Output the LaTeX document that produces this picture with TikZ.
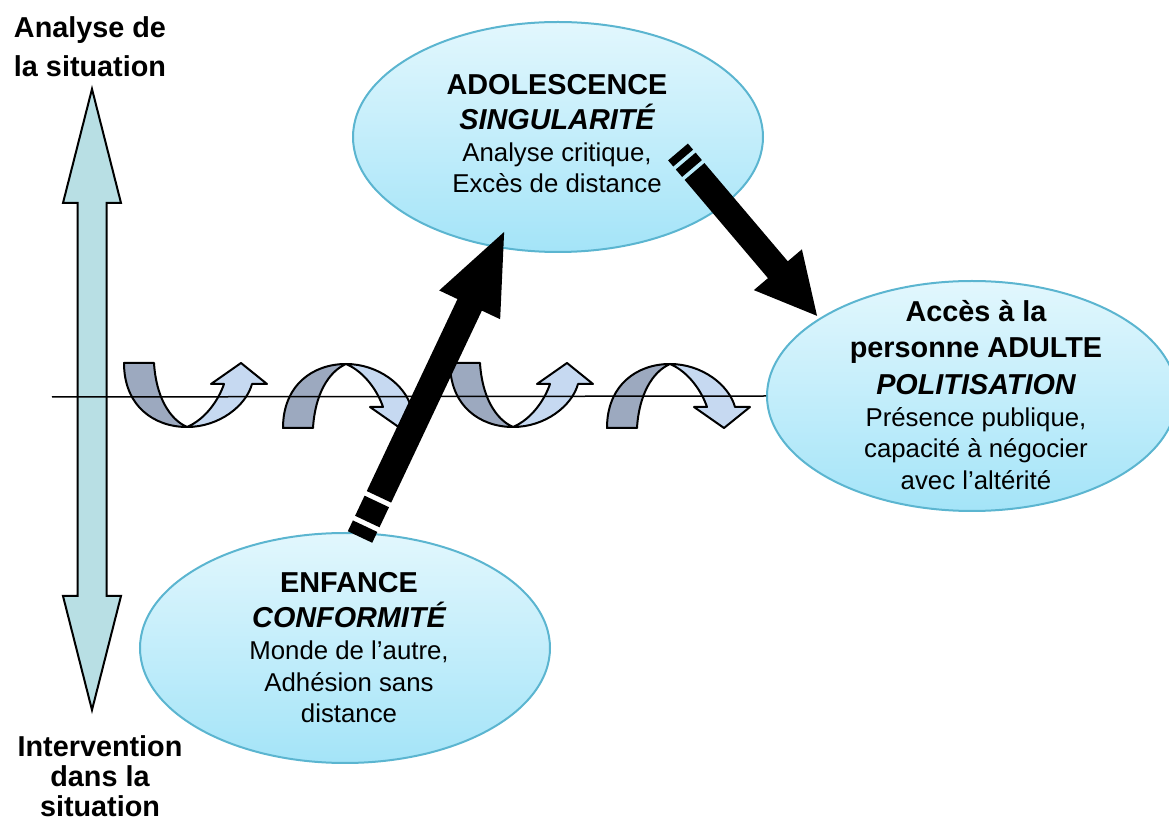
\documentclass[tikz,border=0pt]{standalone}
\usepackage{fontspec}
\setmainfont{Liberation Sans}
\usetikzlibrary{shapes.geometric,arrows.meta,calc}

\definecolor{bubbletop}{HTML}{E2F7FD}
\definecolor{bubblebot}{HTML}{A4E4F8}
\definecolor{bubbleline}{HTML}{5BB5D0}
\definecolor{axisfill}{HTML}{B8DFE4}
\definecolor{curldark}{HTML}{9CA9BF}
\definecolor{curllight}{HTML}{C6D9F1}

\tikzset{
  bubble/.style={ellipse, draw=bubbleline, line width=1pt, top color=bubbletop,
    bottom color=bubblebot, minimum width=205pt, minimum height=115pt, inner sep=0pt},
  titletext/.style={anchor=base, font=\fontsize{14.4}{17}\selectfont\bfseries},
  titleit/.style={anchor=base, font=\fontsize{14.4}{17}\selectfont\bfseries\itshape},
  bodytext/.style={anchor=base, font=\fontsize{12.9}{15}\selectfont},
  blackbar/.style={line width=13.5pt},
  bigarrow/.style={line width=13.5pt, -{Triangle[length=42.5pt,width=30pt]}},
  archarrow/.pic={
    \draw[line width=1pt, fill=curldark, line join=round]
      (0,0) .. controls (0,-43) and (30,-64) .. (63,-64)
      .. controls (45,-56) and (32,-33) .. (30,0) -- cycle;
    \draw[line width=1pt, fill=curllight, line join=round]
      (63,-64) .. controls (95,-64) and (122,-43) .. (128,-21)
      -- (143,-21) -- (117,0) -- (87,-21) -- (100,-21)
      .. controls (95,-36) and (82,-56) .. (63,-64) -- cycle;
  }
}

\begin{document}
\begin{tikzpicture}[x=0.5pt,y=-0.5pt]
\useasboundingbox (0,0) rectangle (1169,828);

% the three stages
\node[bubble] (adol) at (558,137) {};
\node[bubble] (adulte) at (972,396) {};
\node[bubble] (enfance) at (345,648) {};

% vertical axis
\draw[line width=1pt, fill=axisfill, line join=miter]
  (92,89) -- (121,203) -- (106.5,203) -- (106.5,596) -- (121,596) -- (92,710)
  -- (63,596) -- (77.5,596) -- (77.5,203) -- (63,203) -- cycle;

% curls along the line
\pic[yscale=-1] at (124,363) {archarrow};
\pic at (283,428) {archarrow};
\pic[yscale=-1] at (450,363) {archarrow};
\pic at (607,428) {archarrow};

% horizontal line
\coordinate (lineL) at (52,397);
\draw[line width=0.75pt] (lineL) -- (adulte.west);

% enfance -> adolescence
\coordinate (upT) at (360,537);
\coordinate (upH) at (506,228);
\draw[blackbar] (upT) -- ($(upT)!0.035!(upH)$);
\draw[blackbar] ($(upT)!0.05!(upH)$) -- ($(upT)!0.115!(upH)$);
\draw[bigarrow] ($(upT)!0.13!(upH)$) -- (upH);

% adolescence -> adulte
\coordinate (dnT) at (678,152);
\coordinate (dnH) at (818,317);
\draw[blackbar, line width=13pt] (dnT) -- ($(dnT)!0.037!(dnH)$);
\draw[blackbar, line width=13pt] ($(dnT)!0.055!(dnH)$) -- ($(dnT)!0.1!(dnH)$);
\draw[bigarrow, line width=13pt, -{Triangle[length=31pt,width=29pt]}]
  ($(dnT)!0.118!(dnH)$) -- (dnH);

% texts
\node[titletext] (adol1) at (557,95) {ADOLESCENCE};
\node[titleit] (adol2) at (557,130) {SINGULARITÉ};
\node[bodytext] (adol3) at (557,162) {Analyse critique,};
\node[bodytext] (adol4) at (557,193) {Excès de distance};

\node[titletext] (adulte1) at (976,322) {Accès à la};
\node[titletext] (adulte2) at (976,358) {personne ADULTE};
\node[titleit] (adulte3) at (976,395) {POLITISATION};
\node[bodytext] (adulte4) at (976,427) {Présence publique,};
\node[bodytext] (adulte5) at (976,458) {capacité à négocier};
\node[bodytext] (adulte6) at (976,490) {avec l’altérité};

\node[titletext] (enf1) at (349,593) {ENFANCE};
\node[titleit] (enf2) at (349,628) {CONFORMITÉ};
\node[bodytext] (enf3) at (349,660) {Monde de l’autre,};
\node[bodytext] (enf4) at (349,692) {Adhésion sans};
\node[bodytext] (enf5) at (349,723) {distance};

\node[titletext] (top1) at (90,38) {Analyse de};
\node[titletext] (top2) at (90,77) {la situation};
\node[titletext] (bot1) at (100,757) {Intervention};
\node[titletext] (bot2) at (100,787) {dans la};
\node[titletext] (bot3) at (100,817) {situation};
\end{tikzpicture}
\end{document}
